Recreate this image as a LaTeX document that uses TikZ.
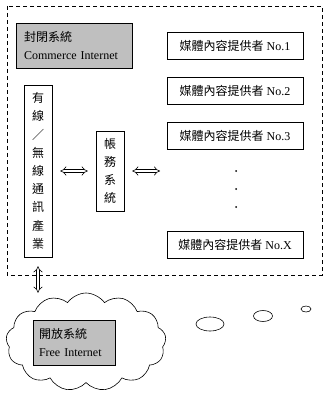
\documentclass[tikz,border=0pt]{standalone}
\usepackage{fontspec}
\setmainfont{Liberation Serif}
\newfontfamily\cjk{Noto Sans CJK TC}
\usetikzlibrary{arrows.meta,shapes.symbols}
\begin{document}
\begin{tikzpicture}[x=1pt, y=-1pt, font=\fontsize{12}{18}\selectfont,
  box/.style={draw, line width=0.6pt, inner sep=0pt},
  graybox/.style={box, fill=black!25, text width=#1, align=left},
  vbox/.style={box, minimum width=28pt, align=center, font=\cjk\fontsize{12}{18.2}\selectfont},
  provider/.style={box, minimum width=136pt, minimum height=27pt},
  dbl/.style={double, double distance=2.6pt, line width=0.6pt, {Implies}-{Implies}}]
 \useasboundingbox (0,0) rectangle (327,398);
 % outer closed system
 \draw[dashed, dash pattern=on 4pt off 3pt, line width=0.6pt] (7,6) rectangle (322,275);
 \node[graybox=100pt, minimum width=116pt, minimum height=45pt] (closed) at (74,45.5)
   {{\cjk 封閉系統}\\Commerce Internet};
 % media providers
 \node[provider] (p1) at (235,45.5) {{\cjk 媒體內容提供者} No.1};
 \node[provider] (p2) at (235,90.5) {{\cjk 媒體內容提供者} No.2};
 \node[provider] (p3) at (235,136) {{\cjk 媒體內容提供者} No.3};
 \node[provider] (px) at (235,245) {{\cjk 媒體內容提供者} No.X};
 \foreach \y in {171,189,207}
   \fill (236,\y) circle (1pt);
 % industry and billing
 \node[vbox, minimum height=172pt] (industry) at (38,171)
   {有\\線\\／\\無\\線\\通\\訊\\產\\業};
 \node[vbox, minimum height=80pt] (billing) at (110,171) {帳\\務\\系\\統};
 \coordinate (media) at (160,171);
 \draw[dbl, shorten <=8pt, shorten >=8pt] (industry.east) -- (billing.west);
 \draw[dbl, shorten <=8pt] (billing.east) -- (media);
 % open system
 \node[cloud, draw, line width=0.6pt, cloud puffs=13, cloud puff arc=110, aspect=1.6,
   minimum width=160pt, minimum height=98pt, inner sep=0pt] (cloud) at (86,342) {};
 \node[graybox=70pt, minimum width=82pt, minimum height=45pt] (open) at (74,342.5)
   {{\cjk 開放系統}\\Free Internet};
 \draw[dbl, shorten <=9pt] (industry.south) -- (cloud.north -| industry.south);
 % thought bubbles
 \draw[line width=0.6pt] (210,324) ellipse (14pt and 7pt);
 \draw[line width=0.6pt] (263,316) ellipse (9.5pt and 5.5pt);
 \draw[line width=0.6pt] (306,309) ellipse (5pt and 3pt);
\end{tikzpicture}
\end{document}
